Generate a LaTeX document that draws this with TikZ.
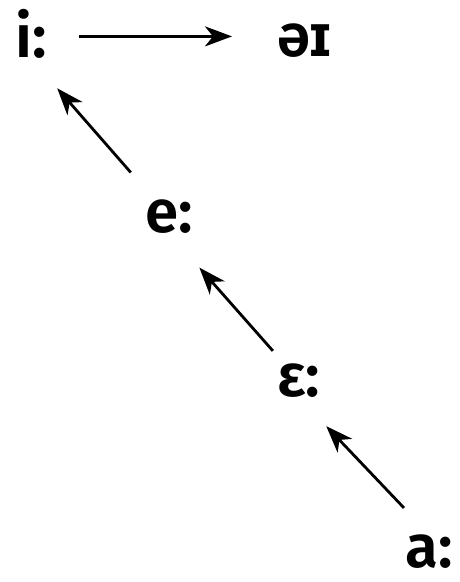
\documentclass[tikz,border=0pt]{standalone}
\usepackage{fontspec}
\setmainfont{Fira Sans}[BoldFont={Fira Sans SemiBold}]
\usetikzlibrary{arrows.meta}

\begin{document}
\begin{tikzpicture}[
  x=1pt, y=-1pt,
  >={Stealth[length=27pt,width=20pt,inset=8pt]},
  vowel/.style={font=\fontsize{60}{60}\selectfont\bfseries, inner sep=0pt, anchor=base west},
  shiftarrow/.style={->, line width=2.8pt}
]
\useasboundingbox (0,0) rectangle (459,582);

% vowels
\node[vowel] (i) at (15,57) {i:};
\node[vowel] (ai) at (277,56) {əɪ};
\node[vowel] (e) at (145,232) {e:};
\node[vowel] (eps) at (277,396) {ɛ:};
\node[vowel] (a) at (405,567) {a:};

% chain shift
\draw[shiftarrow, shorten <=32pt, shorten >=45pt] ([yshift=-3pt]i.east) -- ([yshift=-3pt]i.east -| ai.west);
\draw[shiftarrow, shorten <=58pt, shorten >=40pt] (e.center) -- (i.south);
\draw[shiftarrow, shorten <=39pt, shorten >=46pt] (eps.center) -- (e.south);
\draw[shiftarrow, shorten <=36pt, shorten >=40pt] (a.north) -- (eps.south);
\end{tikzpicture}
\end{document}
